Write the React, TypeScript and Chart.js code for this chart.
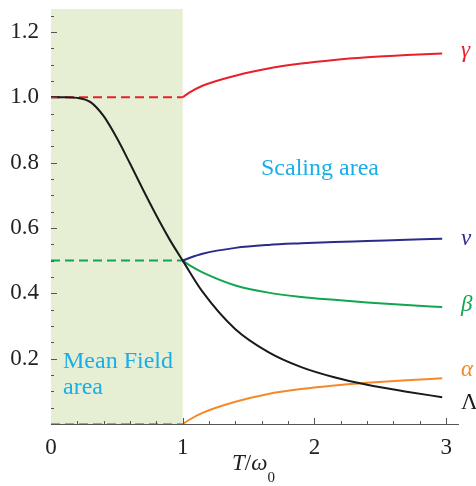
import React, { useEffect, useRef } from "react";
import { Chart, registerables } from "chart.js";

Chart.register(...registerables);

// Mean-field region (T/ω0 from 0 to 1)
const meanT = [0, 1];
const gammaMF = [1.0, 1.0];
const betaMF = [0.5, 0.5];
const alphaMF = [0.0, 0.0];

// Scaling region
const scalingT = [1.0, 1.05, 1.15, 1.4, 1.65, 1.9, 2.15, 2.4, 2.7, 2.97];
const gammaVals = [1.0, 1.014, 1.035, 1.066, 1.088, 1.103, 1.114, 1.122, 1.129, 1.134];
const nuVals = [0.5, 0.508, 0.521, 0.539, 0.548, 0.553, 0.557, 0.56, 0.564, 0.567];
const betaVals = [0.5, 0.486, 0.464, 0.424, 0.402, 0.389, 0.38, 0.372, 0.364, 0.358];
const alphaVals = [0.0, 0.013, 0.034, 0.068, 0.092, 0.107, 0.118, 0.126, 0.134, 0.14];

// Lambda over the whole range
const lambdaT = [0, 0.1, 0.2, 0.3, 0.4, 0.5, 0.6, 0.7, 0.8, 0.9, 1.0, 1.15, 1.4, 1.65, 1.9, 2.15, 2.4, 2.7, 2.97];
const lambdaVals = [1, 1, 0.998, 0.985, 0.942, 0.875, 0.797, 0.716, 0.638, 0.565, 0.5, 0.405, 0.29, 0.22, 0.174, 0.143, 0.12, 0.099, 0.082];

const xTicks = [0, 1, 2, 3];
const yTicks = [0.2, 0.4, 0.6, 0.8, 1.0, 1.2];

const mfRange = [0, 1];

const seriesLabels = [
  { text: "γ", color: "#e8202a", italic: true, y: 57 },
  { text: "ν", color: "#2b2b8c", italic: true, y: 245 },
  { text: "β", color: "#12a552", italic: true, y: 311 },
  { text: "α", color: "#f5892a", italic: true, y: 376 },
  { text: "Λ", color: "#1a1a1a", italic: false, y: 409 },
];

const zip = (xs: number[], ys: number[]) => xs.map((x, i) => ({ x, y: ys[i] }));

const FONT = "Liberation Serif";
const AREA_TEXT = "#1aaee8";

const decorPlugin = {
  id: "decor",
  beforeDatasetsDraw(chart: any) {
    const { ctx, chartArea, scales } = chart;
    const x0 = scales.x.getPixelForValue(mfRange[0]);
    const x1 = scales.x.getPixelForValue(mfRange[1]);
    ctx.save();
    ctx.fillStyle = "#e6eed4";
    ctx.fillRect(x0, chartArea.top, x1 - x0, chartArea.bottom - chartArea.top);
    ctx.restore();
  },
  afterDraw(chart: any) {
    const { ctx, chartArea, scales } = chart;
    const xs = scales.x;
    const ys = scales.y;
    ctx.save();
    ctx.strokeStyle = "#555";
    ctx.lineWidth = 1;
    for (let k = 1; k <= 25; k++) {
      const v = k * 0.05;
      if (v > ys.max) break;
      const py = Math.round(ys.getPixelForValue(v)) + 0.5;
      const major = k % 4 === 0;
      ctx.beginPath();
      ctx.moveTo(chartArea.left, py);
      ctx.lineTo(chartArea.left + (major ? 6 : 3), py);
      ctx.stroke();
    }
    for (let k = 1; k <= 15; k++) {
      const v = k * 0.2;
      if (v > xs.max) break;
      const px = Math.round(xs.getPixelForValue(v)) + 0.5;
      const major = k % 5 === 0;
      ctx.beginPath();
      ctx.moveTo(px, chartArea.bottom);
      ctx.lineTo(px, chartArea.bottom - (major ? 6 : 3));
      ctx.stroke();
    }
    ctx.textBaseline = "alphabetic";
    ctx.textAlign = "left";
    for (const l of seriesLabels) {
      ctx.fillStyle = l.color;
      ctx.font = `${l.italic ? "italic " : ""}23px ${FONT}`;
      ctx.fillText(l.text, 461, l.y);
    }
    ctx.fillStyle = AREA_TEXT;
    ctx.font = `24px ${FONT}`;
    ctx.fillText("Scaling area", 261, 175);
    ctx.fillText("Mean Field", 63, 368);
    ctx.fillText("area", 63, 394);
    ctx.fillStyle = "#222";
    let x = 232;
    const base = 470;
    ctx.font = `italic 23px ${FONT}`;
    ctx.fillText("T", x, base);
    x += ctx.measureText("T").width;
    ctx.font = `23px ${FONT}`;
    ctx.fillText("/", x, base);
    x += ctx.measureText("/").width;
    ctx.font = `italic 23px ${FONT}`;
    ctx.fillText("ω", x, base);
    x += ctx.measureText("ω").width;
    ctx.font = `15px ${FONT}`;
    ctx.fillText("0", x, base + 12);
    ctx.restore();
  },
};

export default function App() {
  const ref = useRef<HTMLCanvasElement | null>(null);
  useEffect(() => {
    if (!ref.current) return;
    const common = { pointRadius: 0, borderWidth: 2, cubicInterpolationMode: "monotone" as const, fill: false };
    const chart = new Chart(ref.current, {
      type: "line",
      data: {
        datasets: [
          { ...common, label: "Λ", data: zip(lambdaT, lambdaVals), borderColor: "#1a1a1a" },
          { ...common, label: "γ", data: zip(scalingT, gammaVals), borderColor: "#e8202a" },
          { ...common, label: "ν", data: zip(scalingT, nuVals), borderColor: "#2b2b8c" },
          { ...common, label: "β", data: zip(scalingT, betaVals), borderColor: "#12a552" },
          { ...common, label: "α", data: zip(scalingT, alphaVals), borderColor: "#f5892a" },
          { ...common, label: "γ MF", data: zip(meanT, gammaMF), borderColor: "#e8202a", borderDash: [9, 5] },
          { ...common, label: "β MF", data: zip(meanT, betaMF), borderColor: "#12a552", borderDash: [9, 5] },
          { ...common, label: "α MF", data: zip(meanT, alphaMF), borderColor: "#f5892a", borderDash: [9, 5] },
        ],
      },
      options: {
        responsive: false,
        animation: false,
        layout: { padding: { top: 9, right: 18, left: 0, bottom: 0 } },
        plugins: { legend: { display: false }, tooltip: { enabled: false } },
        scales: {
          x: {
            type: "linear",
            min: 0,
            max: 3.09,
            grid: { display: false, drawTicks: false },
            border: { display: true, color: "#555", width: 1 },
            afterBuildTicks: (s: any) => {
              s.ticks = xTicks.map((v) => ({ value: v }));
            },
            afterFit: (s: any) => {
              s.height = 62;
              s.paddingLeft = 0;
              s.paddingRight = 0;
            },
            ticks: {
              padding: 10,
              maxRotation: 0,
              color: "#222",
              font: { family: FONT, size: 23 },
              callback: (v: any) => String(v),
            },
          },
          y: {
            type: "linear",
            min: 0,
            max: 1.27,
            grid: { display: false, drawTicks: false },
            border: { display: true, color: "#555", width: 1 },
            afterBuildTicks: (s: any) => {
              s.ticks = yTicks.map((v) => ({ value: v }));
            },
            afterFit: (s: any) => {
              s.width = 51;
              s.paddingTop = 0;
              s.paddingBottom = 0;
            },
            ticks: {
              padding: 12,
              color: "#222",
              font: { family: FONT, size: 23 },
              callback: (v: any) => Number(v).toFixed(1),
            },
          },
        },
      },
      plugins: [decorPlugin],
    });
    return () => chart.destroy();
  }, []);
  return (
    <div style={{ position: "absolute", left: 0, top: 0, width: 476, height: 486, background: "#fff" }}>
      <canvas ref={ref} width={476} height={486} style={{ display: "block" }} />
    </div>
  );
}
